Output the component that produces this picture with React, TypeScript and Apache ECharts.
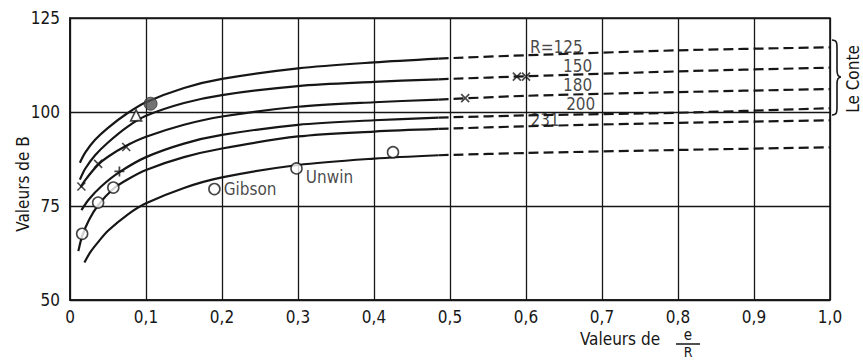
import React, { useEffect, useRef } from 'react';
import * as echarts from 'echarts';

// ---- axes ----
const xMin = 0;
const xMax = 1;
const xStep = 0.1;
const yMin = 50;
const yMax = 125;
const yStep = 25;

// ---- curves (solid = measured range, dashed = extrapolation) ----
const c1Solid = [[0.013, 86.5], [0.02, 89.2], [0.033, 92.6], [0.05, 95.8], [0.075, 99.6], [0.1, 102.6], [0.15, 106.4], [0.2, 108.8], [0.3, 111.6], [0.4, 113.2], [0.485, 114.2]];
const c1Dashed = [[0.485, 114.2], [0.6, 115.1], [0.8, 116.4], [1.0, 117.2]];
const c2Solid = [[0.013, 82.0], [0.02, 84.9], [0.033, 88.5], [0.05, 91.9], [0.075, 96.0], [0.1, 99.0], [0.15, 102.4], [0.2, 104.5], [0.3, 106.9], [0.4, 108.0], [0.485, 108.7]];
const c2Dashed = [[0.485, 108.7], [0.6, 109.5], [0.8, 110.8], [1.0, 111.8]];
const c3Solid = [[0.014, 80.0], [0.02, 81.9], [0.037, 86.0], [0.05, 88.1], [0.074, 91.0], [0.1, 93.4], [0.15, 96.6], [0.2, 98.8], [0.3, 101.4], [0.4, 102.6], [0.485, 103.3]];
const c3Dashed = [[0.485, 103.3], [0.6, 104.3], [0.8, 105.3], [1.0, 106.1]];
const c4Solid = [[0.015, 73.9], [0.025, 76.8], [0.041, 80.2], [0.065, 84.0], [0.1, 88.0], [0.15, 91.6], [0.2, 93.9], [0.3, 96.6], [0.4, 97.8], [0.485, 98.5]];
const c4Dashed = [[0.485, 98.5], [0.6, 99.1], [0.8, 99.8], [1.0, 101.0]];
const c5Solid = [[0.011, 63.0], [0.016, 67.0], [0.025, 71.3], [0.037, 75.2], [0.057, 79.6], [0.075, 82.0], [0.1, 84.6], [0.15, 88.0], [0.2, 90.3], [0.3, 93.5], [0.4, 94.8], [0.485, 95.5]];
const c5Dashed = [[0.485, 95.5], [0.6, 96.2], [0.8, 97.1], [1.0, 97.8]];
const c6Solid = [[0.019, 60.0], [0.027, 62.8], [0.037, 65.4], [0.05, 68.4], [0.075, 72.6], [0.1, 75.7], [0.15, 79.8], [0.2, 82.6], [0.3, 85.9], [0.4, 87.6], [0.485, 88.5]];
const c6Dashed = [[0.485, 88.5], [0.6, 89.1], [0.8, 89.9], [1.0, 90.6]];

// ---- experimental points ----
const openCircles = [[0.016, 67.6], [0.037, 75.9], [0.057, 79.9], [0.425, 89.3]];
const gibsonPoint = [0.19, 79.5];
const unwinPoint = [0.298, 85.0];
const crossPoints = [[0.015, 80.2], [0.037, 86.2], [0.074, 90.7], [0.52, 103.7], [0.588, 109.4], [0.6, 109.4]];
const plusPoints = [[0.065, 84.2]];
const trianglePoints = [[0.087, 99.1]];
const filledPoints = [[0.106, 102.2]];

// ---- curve labels ----
const rLabels = ['R=125', '150', '180', '200', '231'];
const rLabelX = [0.64, 0.668, 0.668, 0.672, 0.625];
const rLabelY = [117.4, 112.2, 107.2, 102.2, 97.9];

const FONT = "'DejaVu Sans Condensed', 'DejaVu Sans', sans-serif";
const INK = '#161616';

echarts.graphic.registerShape(
  'brace',
  echarts.graphic.extendPath('M0,0 C5,0 5,3 5,9 L5,30 C5,34 6,37 9,37 C6,37 5,40 5,44 L5,66 C5,72 5,75 0,75', {})
);

const crossSymbol = 'path://M0,0L10,10M10,0L0,10';
const plusSymbol = 'path://M5,0L5,10M0,5L10,5';

function lineSeries(data: number[][], dashed: boolean) {
  return {
    type: 'line',
    data,
    showSymbol: false,
    symbol: 'none',
    smooth: 0.3,
    silent: true,
    z: 3,
    lineStyle: { color: INK, width: 2.2, type: dashed ? [10, 5] : 'solid' },
  };
}

export default function App() {
  const ref = useRef<HTMLDivElement>(null);
  useEffect(() => {
    const el = ref.current!;
    const chart = echarts.init(el, null, { renderer: 'svg' });
    const curves = [
      [c1Solid, c1Dashed], [c2Solid, c2Dashed], [c3Solid, c3Dashed],
      [c4Solid, c4Dashed], [c5Solid, c5Dashed], [c6Solid, c6Dashed],
    ];
    const series: any[] = [];
    curves.forEach(([s, d]) => {
      series.push(lineSeries(s, false));
      series.push(lineSeries(d, true));
    });
    const openStyle = { color: '#ffffff', borderColor: INK, borderWidth: 1.6 };
    series.push({
      type: 'scatter', z: 5, symbol: 'circle', symbolSize: 11, itemStyle: openStyle,
      data: [
        ...openCircles,
        { value: gibsonPoint, label: { show: true, formatter: 'Gibson', position: 'right', distance: 3, fontSize: 17, fontFamily: FONT, color: INK } },
        { value: unwinPoint, label: { show: true, formatter: 'Unwin', position: 'right', distance: 3, offset: [0, 9], fontSize: 17, fontFamily: FONT, color: INK } },
      ],
    });
    series.push({
      type: 'scatter', z: 5, symbol: crossSymbol, symbolSize: 8,
      itemStyle: { color: 'none', borderColor: INK, borderWidth: 1.6 }, data: crossPoints,
    });
    series.push({
      type: 'scatter', z: 5, symbol: plusSymbol, symbolSize: 10,
      itemStyle: { color: 'none', borderColor: INK, borderWidth: 1.8 }, data: plusPoints,
    });
    series.push({
      type: 'scatter', z: 5, symbol: 'triangle', symbolSize: 11, itemStyle: openStyle, data: trianglePoints,
    });
    series.push({
      type: 'scatter', z: 5, symbol: 'circle', symbolSize: 13,
      itemStyle: { color: '#505050', borderColor: '#333', borderWidth: 1 }, data: filledPoints,
    });
    series.push({
      type: 'scatter', z: 6, symbolSize: 0, silent: true,
      label: { show: true, position: 'inside', formatter: '{b}', fontSize: 17, fontFamily: FONT, color: INK },
      data: rLabels.map((t, i) => ({ name: t, value: [rLabelX[i], rLabelY[i]] })),
    });

    chart.setOption({
      animation: false,
      backgroundColor: '#ffffff',
      grid: { left: 70, right: 33, top: 18, bottom: 60, show: true, borderColor: INK, borderWidth: 1.6, backgroundColor: 'transparent' },
      xAxis: {
        type: 'value', min: xMin, max: xMax, interval: xStep,
        axisLine: { show: true, lineStyle: { color: INK, width: 1.6 } },
        axisTick: { show: false },
        splitLine: { show: true, lineStyle: { color: INK, width: 1.3 } },
        axisLabel: {
          margin: 8, fontSize: 17, lineHeight: 17, fontFamily: FONT, color: INK,
          formatter: (v: number) => (v === 0 ? '0' : v.toFixed(1).replace('.', ',')),
        },
      },
      yAxis: {
        type: 'value', min: yMin, max: yMax, interval: yStep,
        axisLine: { show: true, lineStyle: { color: INK, width: 1.6 } },
        axisTick: { show: false },
        splitLine: { show: true, lineStyle: { color: INK, width: 1.3 } },
        axisLabel: { margin: 10, fontSize: 17, fontFamily: FONT, color: INK, padding: [0, 0, 12, 0] },
      },
      graphic: [
        { type: 'text', x: 23, y: 184, rotation: Math.PI / 2, style: { text: 'Valeurs de B', fontSize: 17, fontFamily: FONT, fill: INK, align: 'center', verticalAlign: 'middle' } },
        { type: 'text', x: 620, y: 339, style: { text: 'Valeurs de', fontSize: 17, fontFamily: FONT, fill: INK, align: 'center', verticalAlign: 'middle' } },
        { type: 'text', x: 688, y: 335, style: { text: 'e', fontSize: 15, lineHeight: 14, fontFamily: FONT, fill: INK, align: 'center', verticalAlign: 'middle' } },
        { type: 'line', shape: { x1: 676, y1: 344, x2: 700, y2: 344 }, style: { stroke: INK, lineWidth: 1.5 } },
        { type: 'text', x: 688, y: 352, style: { text: 'R', fontSize: 14, lineHeight: 13, fontFamily: FONT, fill: INK, align: 'center', verticalAlign: 'middle' } },
        { type: 'brace', x: 832, y: 40, style: { stroke: INK, fill: 'none', lineWidth: 1.6 } },
        { type: 'text', x: 853, y: 79, rotation: Math.PI / 2, style: { text: 'Le Conte', fontSize: 17, fontFamily: FONT, fill: INK, align: 'center', verticalAlign: 'middle' } },
      ],
      series,
    });
    return () => chart.dispose();
  }, []);
  return <div ref={ref} style={{ position: 'fixed', left: 0, top: 0, width: 863, height: 360, background: '#fff' }} />;
}
